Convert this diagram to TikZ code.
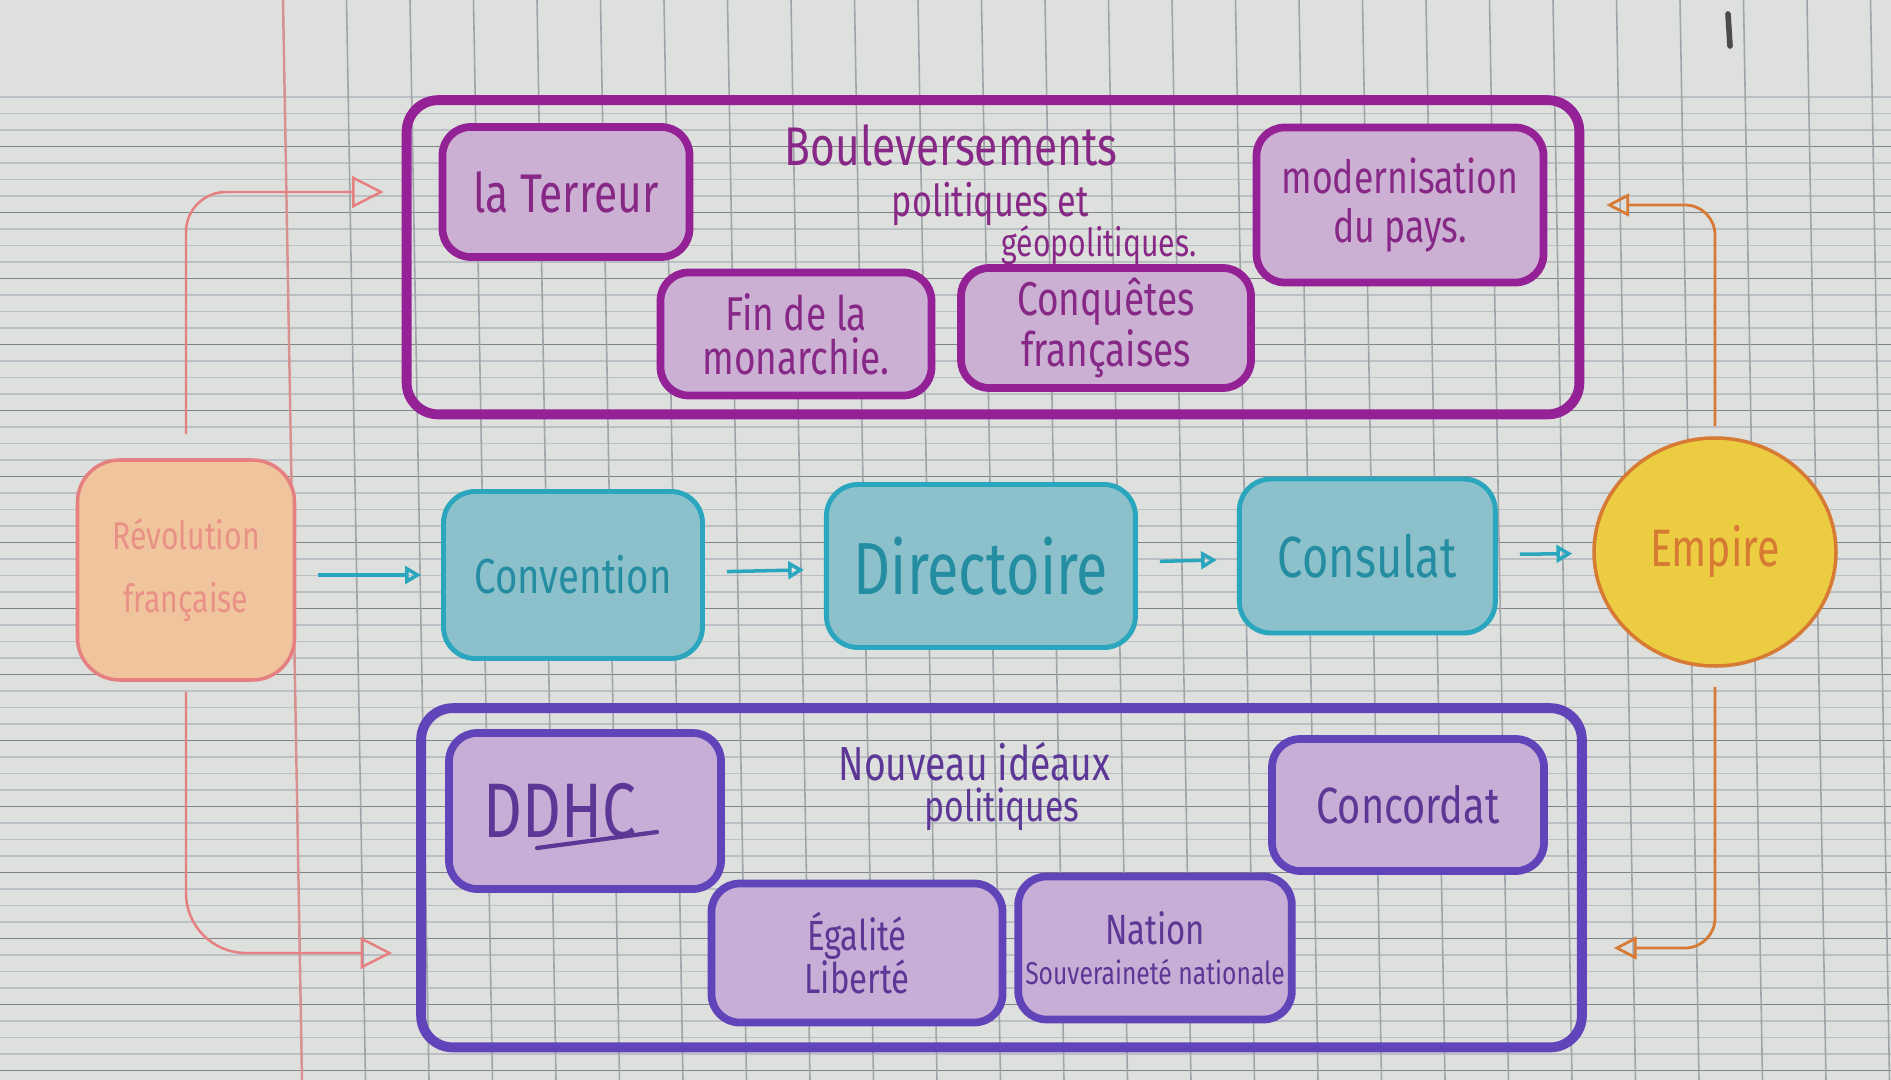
\documentclass[tikz,border=0pt]{standalone}
\usepackage{fontspec}
\newfontfamily\handfont{Fira Sans}[FakeStretch=0.78]
\usetikzlibrary{arrows.meta, shapes.geometric, positioning, fit, calc}
\definecolor{paper}{RGB}{222,224,222}
\definecolor{gridline}{RGB}{160,165,170}
\definecolor{marginred}{RGB}{215,145,145}
\definecolor{plum}{RGB}{148,34,150}
\definecolor{plumtext}{RGB}{135,40,135}
\definecolor{lilac}{RGB}{203,176,212}
\definecolor{indigo}{RGB}{98,68,186}
\definecolor{indigotext}{RGB}{92,55,150}
\definecolor{lavender}{RGB}{198,174,214}
\definecolor{tealink}{RGB}{42,166,190}
\definecolor{tealfill}{RGB}{140,193,203}
\definecolor{revink}{RGB}{230,128,128}
\definecolor{revfill}{RGB}{240,196,156}
\definecolor{orangeink}{RGB}{214,122,52}
\definecolor{sunfill}{RGB}{236,204,64}

\begin{document}
\begin{tikzpicture}[
    % Styles
    hand/.style 2 args={font=\handfont\fontsize{#1}{#2}\selectfont},
    titletext/.style={align=left, anchor=north west, inner sep=0pt},
    revbox/.style={rectangle, draw=revink, fill=revfill, line width=1pt, rounded corners=12pt, minimum width=2.17cm, minimum height=2.2cm, align=center, text=revink!75!revfill, hand={11}{18}},
    stagebox/.style={rectangle, draw=tealink, fill=tealfill, line width=1.4pt, rounded corners=9pt, align=center, text=tealink!85!black},
    empirenode/.style={ellipse, draw=orangeink, fill=sunfill, line width=1pt, minimum width=2.42cm, minimum height=2.28cm, inner sep=0pt, text=orangeink, hand={15}{17}},
    topbox/.style={rectangle, draw=plum, fill=lilac, line width=2.2pt, rounded corners=8pt, align=center, text=plumtext, inner sep=2pt},
    botbox/.style={rectangle, draw=indigo, fill=lavender, line width=2.2pt, rounded corners=8pt, align=center, text=indigotext, inner sep=2pt},
    topgroup/.style={draw=plum, line width=2.8pt, rounded corners=9pt, inner xsep=0.32cm, inner ysep=0.19cm, yshift=0.04cm},
    botgroup/.style={draw=indigo, line width=2.8pt, rounded corners=9pt, inner xsep=0.29cm, inner ysep=0.21cm, xshift=0.05cm},
    stagearrow/.style={-{Triangle[open, length=4.5pt, width=5pt]}, line width=1pt, draw=tealink, shorten <=0.22cm, shorten >=0.2cm},
    revlink/.style={-{Triangle[open, length=9pt, width=9pt]}, line width=0.7pt, draw=revink},
    emplink/.style={-{Triangle[open, length=6.5pt, width=6.5pt]}, line width=0.8pt, draw=orangeink, rounded corners=0.3cm}
]
\useasboundingbox (0,0) rectangle (18.91,-10.80);

% PAPER (Seyes ruling)
\fill[paper] (0,0) rectangle (18.91,-10.80);
\foreach \k in {0,...,59}
    \draw[gridline!70, line width=0.35pt] (0,{-0.97-0.165*\k}) -- (18.91,{-0.97-0.165*\k});
\foreach \k in {0,...,14}
    \draw[gridline!80!black, line width=0.55pt] (0,{-1.465-0.66*\k}) -- (18.91,{-1.465-0.66*\k});
\foreach \k in {1,...,25}
    \draw[gridline, line width=0.45pt] ({2.92+0.635*\k-0.09},0) -- ({2.92+0.635*\k+0.10},-10.80);
\draw[marginred, line width=0.7pt] (2.83,0) -- (3.02,-10.80);
\draw[black!70, line width=1.6pt, line cap=round] (17.28,-0.14) -- (17.30,-0.46);

% 1. REVOLUTION
\node[revbox] (rev) at (1.86,-5.70) {Révolution\\française};

% 2. STAGES
\node[stagebox, minimum width=2.59cm, minimum height=1.67cm, hand={14}{16}] (conv) at (5.73,-5.75) {Convention};
\node[stagebox, minimum width=3.09cm, minimum height=1.63cm, hand={21}{24}, right=1.19cm of conv, yshift=0.09cm] (dir) {Directoire};
\node[stagebox, minimum width=2.56cm, minimum height=1.54cm, hand={16.5}{19}, right=0.99cm of dir, yshift=0.1cm] (cons) {Consulat};
\node[empirenode] (empire) at (17.15,-5.52) {Empire};

% 3. BOULEVERSEMENTS
\node[topbox, minimum width=2.47cm, minimum height=1.30cm, hand={15.5}{17}] (terreur) at (5.66,-1.92) {la Terreur};
\node[topbox, minimum width=2.71cm, minimum height=1.23cm, hand={13.5}{12.5}] (fin) at (7.96,-3.34) {Fin de la\\monarchie.};
\node[topbox, minimum width=2.90cm, minimum height=1.20cm, hand={13.5}{12}] (conq) at (11.06,-3.28) {Conquêtes\\françaises};
\node[topbox, minimum width=2.87cm, minimum height=1.55cm, hand={13}{14}] (modern) at (14.00,-2.05) {modernisation\\du pays.};
\node[titletext, hand={15.5}{11.5}, text=plumtext] (top_title) at (7.84,-1.24) {Bouleversements\\[3pt]\hspace*{1.07cm}{\fontsize{12.5}{11.5}\selectfont politiques et}\\\hspace*{2.17cm}{\fontsize{11}{11.5}\selectfont géopolitiques.}};
\node[topgroup, fit=(terreur) (fin) (conq) (modern)] (top_group) {};

% 4. NOUVEAUX IDEAUX
\node[botbox, minimum width=2.72cm, minimum height=1.56cm, hand={22}{24}] (ddhc) at (5.85,-8.11) {DDHC\hspace*{0.5cm}};
\node[botbox, minimum width=2.72cm, minimum height=1.32cm, hand={14.5}{16}] (concordat) at (14.08,-8.05) {Concordat};
\node[botbox, minimum width=2.91cm, minimum height=1.39cm, hand={12}{12.3}] (egal) at (8.57,-9.53) {Égalité\\Liberté};
\node[botbox, minimum width=2.69cm, minimum height=1.43cm, hand={12}{11.4}] (nation) at (11.55,-9.48) {Nation\\{\fontsize{9}{10}\selectfont Souveraineté nationale}};
\node[titletext, hand={13.6}{11.5}, text=indigotext] (bot_title) at (8.38,-7.42) {Nouveau idéaux\\\hspace*{0.86cm}{\fontsize{12.3}{11.5}\selectfont politiques}};
\node[botgroup, fit=(ddhc) (concordat) (egal) (nation)] (bot_group) {};
\draw[indigotext, line width=1.2pt, line cap=round] ([xshift=-0.48cm, yshift=-0.37cm]ddhc.center) -- ([xshift=0.72cm, yshift=-0.21cm]ddhc.center);

% CONNECTING ARROWS
\draw[stagearrow] (rev.east |- conv) -- (conv.west);
\draw[stagearrow] (conv) -- (dir);
\draw[stagearrow] (dir) -- (cons);
\draw[stagearrow] (cons) -- (empire);

\draw[revlink, rounded corners=0.4cm] ([yshift=0.24cm]rev.north) |- ([xshift=-0.18cm]top_group.west |- terreur);
\draw[revlink, rounded corners=0.6cm] ([yshift=-0.1cm]rev.south) |- ([xshift=-0.24cm]bot_group.west |- egal);

\draw[emplink] ([yshift=0.1cm]empire.north) |- ([xshift=0.22cm]top_group.east |- modern);
\draw[emplink] ([yshift=-0.19cm]empire.south) |- ([xshift=0.27cm]bot_group.east |- nation);

\end{tikzpicture}
\end{document}
